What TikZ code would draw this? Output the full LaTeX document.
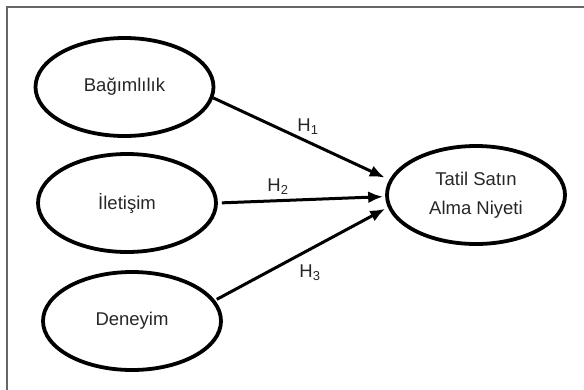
\documentclass[tikz,border=0pt]{standalone}
\usepackage{fontspec}
\setmainfont{Liberation Sans}
\usetikzlibrary{shapes.geometric,arrows.meta}
\tikzset{
  var/.style={ellipse, draw=black, line width=3.8pt, minimum width=178pt, minimum height=98pt, inner sep=0pt, font=\fontsize{18.5}{29}\selectfont, text=black!85, align=center},
  path/.style={line width=3pt, -{Latex[length=15pt,width=12pt]}},
  hlab/.style={font=\fontsize{18.5}{20}\selectfont, text=black!85, inner sep=0pt},
}
\begin{document}
\begin{tikzpicture}[x=1pt,y=-1pt]
\useasboundingbox (0,0) rectangle (584,389);
\draw[draw=black!60, line width=1.5pt] (7,7) rectangle (600,400);
\node[var] (b) at (124.5,87) {Bağımlılık};
\node[var] (i) at (127,203) {İletişim};
\node[var] (d) at (132,321) {Deneyim};
\node[var] (t) at (476,195) {Tatil Satın\\Alma Niyeti};
\draw[path, shorten >=5pt] (b.-7) -- (t.170);
\draw[path, shorten <=4pt, shorten >=2pt] (i.0) -- (t.181);
\draw[path, shorten <=2pt, shorten >=3pt] (d.14) -- (t.188);
\node[hlab] (h1) at (308,127) {H\textsubscript{1}};
\node[hlab] (h2) at (278,187) {H\textsubscript{2}};
\node[hlab] (h3) at (310,273) {H\textsubscript{3}};
\end{tikzpicture}
\end{document}
